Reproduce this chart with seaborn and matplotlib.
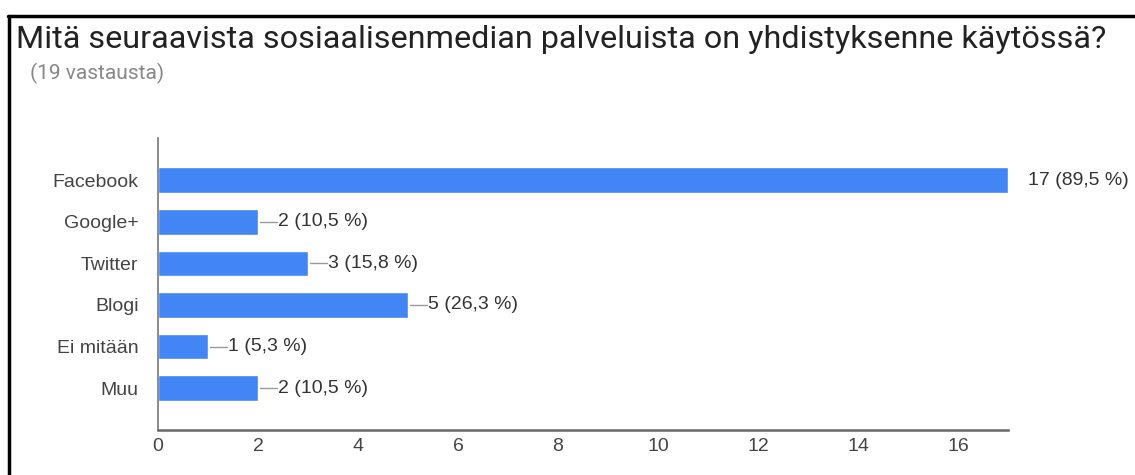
import pandas as pd
import numpy as np
import matplotlib
matplotlib.use('Agg')
import matplotlib.pyplot as plt
import seaborn as sns
from matplotlib.lines import Line2D

# data
palvelut = ['Facebook', 'Google+', 'Twitter', 'Blogi', 'Ei mitään', 'Muu']
vastaukset = [17, 2, 3, 5, 1, 2]
osuudet = ['89,5', '10,5', '15,8', '26,3', '5,3', '10,5']
xtikit = [0, 2, 4, 6, 8, 10, 12, 14, 16]

otsikko = 'Mitä seuraavista sosiaalisenmedian palveluista on yhdistyksenne käytössä?'
alaotsikko = '(19 vastausta)'

sns.set_theme(style='white')
plt.rcParams['font.family'] = ['Liberation Sans', 'DejaVu Sans']

df = pd.DataFrame({'palvelu': palvelut, 'maara': vastaukset})

fig = plt.figure(figsize=(11.35, 4.75), dpi=100)
W, H = 1135, 475
# axes placed by pixels
ax = fig.add_axes([158 / W, 1 - 430 / H, (1008 - 158) / W, (430 - 138) / H])

sns.barplot(data=df, x='maara', y='palvelu', orient='h', color='#4285F4',
            saturation=1, width=0.62, ax=ax)

ax.set_xlim(0, 17)
ax.set_ylim(len(palvelut) - 1 + 1.01, -1.02)
ax.set_xticks(xtikit)
ax.set_xlabel('')
ax.set_ylabel('')
for s in ['top', 'right']:
    ax.spines[s].set_visible(False)
ax.spines['left'].set_color('#777777')
ax.spines['bottom'].set_color('#666666')
ax.spines['left'].set_linewidth(1.2)
ax.spines['bottom'].set_linewidth(1.8)
ax.tick_params(axis='y', length=0, pad=14, labelsize=14, labelcolor='#444444')
ax.tick_params(axis='x', length=0, pad=6, labelsize=14, labelcolor='#444444')

# value labels with little leader lines
px = 17 / (1008 - 158)
for i, (v, p) in enumerate(zip(vastaukset, osuudet)):
    if v < max(vastaukset):
        ax.plot([v + 2 * px, v + 19 * px], [i, i], color='#999999', lw=1, clip_on=False)
    ax.text(v + 20 * px, i, f'{v} ({p} %)', va='center', ha='left',
            fontsize=14, color='#333333', clip_on=False)

fig.text(16 / W, 1 - 40 / H, otsikko, fontsize=23.3, color='#222222',
         family=['Roboto', 'DejaVu Sans'], va='center', ha='left')
fig.text(30 / W, 1 - 73 / H, alaotsikko, fontsize=15, color='#888888',
         family=['Roboto', 'DejaVu Sans'], va='center', ha='left')

# frame lines at top and left
fig.add_artist(Line2D([8 / W, 1], [1 - 16 / H, 1 - 16 / H], color='black', lw=2.5))
fig.add_artist(Line2D([9 / W, 9 / W], [0, 1 - 16 / H], color='black', lw=2.5))

fig.savefig('out.png', dpi=100)
